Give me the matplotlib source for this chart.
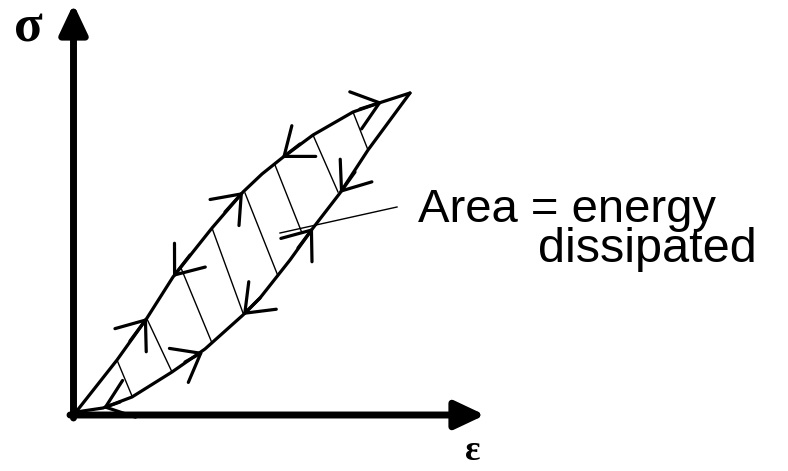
import matplotlib
matplotlib.use("Agg")
import matplotlib.pyplot as plt

# loop (strain, stress in arbitrary units)
load_eps = [0.2, 4.3, 7.3, 9.9, 13.8, 16.9, 18.8, 20.8, 23.9, 27.9, 30.8, 33.6]
load_sig = [0.2, 5.4, 9.6, 13.7, 18.6, 22.2, 24.0, 25.6, 27.9, 30.2, 31.2, 32.1]
unload_eps = [0.2, 2.9, 5.8, 9.8, 13.1, 16.9, 18.6, 21.6, 23.9, 26.6, 29.4, 33.6]
unload_sig = [0.2, 0.6, 1.7, 4.2, 6.5, 9.9, 11.6, 15.4, 18.6, 22.1, 26.4, 32.1]

# hatching lines: (eps_top, sig_top, eps_bottom, sig_bottom)
hatch = [
    (4.3, 5.4, 5.8, 1.8),
    (7.3, 9.5, 9.8, 4.2),
    (10.7, 14.6, 13.8, 7.1),
    (13.8, 18.6, 16.9, 10.1),
    (17.1, 22.1, 20.4, 13.8),
    (20.1, 24.9, 22.8, 18.1),
    (23.9, 27.9, 26.4, 22.2),
    (27.9, 30.2, 29.4, 26.4),
]

# direction arrows on the loop: (tip_eps, tip_sig, tail_eps, tail_sig)
arrows = [
    (7.3, 9.6, 5.6, 7.3),
    (9.9, 13.7, 11.6, 15.9),
    (16.9, 22.2, 15.1, 20.2),
    (20.8, 25.6, 22.6, 27.0),
    (30.8, 31.2, 28.6, 30.5),
    (2.9, 0.6, 4.6, 1.2),
    (12.9, 6.2, 11.1, 5.2),
    (16.9, 9.9, 18.6, 11.6),
    (23.9, 18.6, 22.4, 16.6),
    (26.6, 22.1, 28.1, 24.2),
]

pointer = [(20.6, 18.1), (32.3, 20.7)]

fig = plt.figure(figsize=(7.88, 4.71), dpi=100)
ax = fig.add_axes([0, 0, 1, 1])
ax.set_xlim(-7.4, 71.4)
ax.set_ylim(-5.7, 41.4)
ax.axis('off')

# axes with arrow heads
ax.annotate('', xy=(-0.05, 41.0), xytext=(-0.05, -0.4),
            arrowprops=dict(arrowstyle='-|>,head_length=18,head_width=8.5',
                            mutation_scale=1, lw=5, color='k',
                            shrinkA=0, shrinkB=0))
ax.annotate('', xy=(41.1, -0.1), xytext=(-0.4, -0.1),
            arrowprops=dict(arrowstyle='-|>,head_length=18,head_width=8.5',
                            mutation_scale=1, lw=5, color='k',
                            shrinkA=0, shrinkB=0))

ax.plot(load_eps, load_sig, color='k', lw=2.3, solid_capstyle='round',
        solid_joinstyle='round')
ax.plot(unload_eps, unload_sig, color='k', lw=2.3, solid_capstyle='round',
        solid_joinstyle='round')

for e0, s0, e1, s1 in hatch:
    ax.plot([e0, e1], [s0, s1], color='k', lw=1.0)

for te, ts, be, bs in arrows:
    ax.annotate('', xy=(te, ts), xytext=(be, bs),
                arrowprops=dict(arrowstyle='->,head_length=18,head_width=14',
                                mutation_scale=1, lw=2.3, color='k',
                                shrinkA=0, shrinkB=0))

ax.plot([p[0] for p in pointer], [p[1] for p in pointer], color='k', lw=1.0)

ax.text(34.4, 20.4, 'Area = energy', fontsize=34, family='Liberation Sans',
        ha='left', va='center')
ax.text(46.4, 16.4, 'dissipated', fontsize=35, family='Liberation Sans',
        ha='left', va='center')

ax.text(-4.6, 38.6, 'σ', fontsize=38, family='Liberation Serif',
        fontweight='bold', ha='center', va='center')
ax.text(39.9, -3.7, 'ε', fontsize=26, family='Liberation Serif',
        fontweight='bold', ha='center', va='center')

plt.savefig('out.png', dpi=100)
